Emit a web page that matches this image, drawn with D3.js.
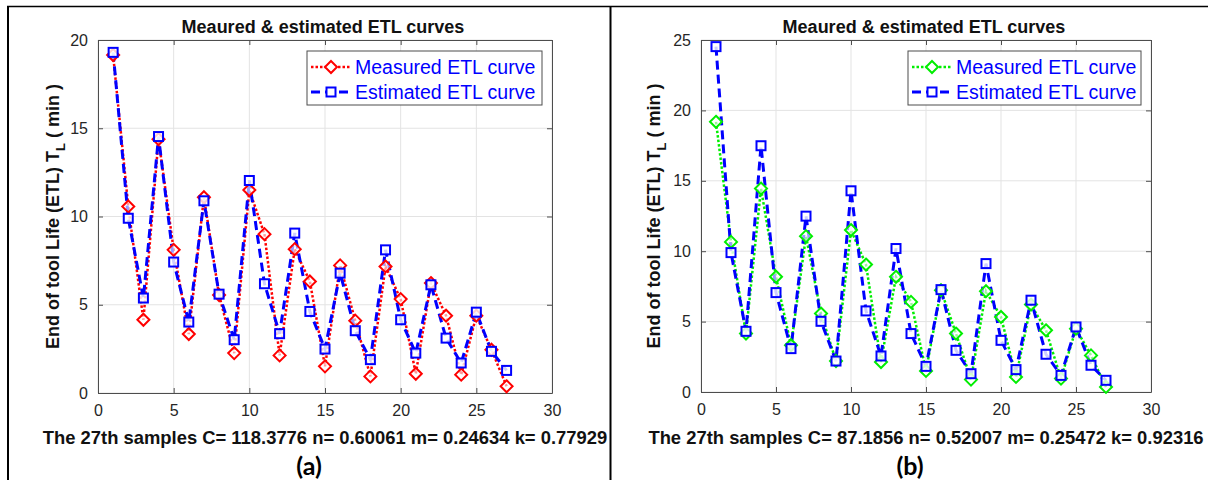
<!DOCTYPE html>
<html>
<head>
<meta charset="utf-8">
<script src="https://cdn.jsdelivr.net/npm/d3@7"></script>
<style>
  body { margin: 0; background: #fff; }
  svg text { font-family: "Liberation Sans", Arial, sans-serif; }
</style>
</head>
<body>
<div id="chart"></div>
<script>
// sample index 1..27
const samples = d3.range(1, 28);

// measured / estimated ETL, panel (a)
const measuredA = [19.15, 10.57, 4.15, 14.38, 8.11, 3.34, 11.09, 5.55, 2.26, 11.5, 9.0, 2.13, 8.15, 6.32, 1.51, 7.23, 4.1, 0.94, 7.17, 5.32, 1.09, 6.23, 4.38, 1.04, 4.38, 2.45, 0.38];
const estimatedA = [19.3, 9.9, 5.38, 14.53, 7.42, 4.02, 10.89, 5.6, 3.02, 12.04, 6.19, 3.36, 9.06, 4.62, 2.49, 6.79, 3.53, 1.89, 8.11, 4.15, 2.26, 6.13, 3.11, 1.7, 4.58, 2.36, 1.28];

// panel (b)
const measuredB = [19.19, 10.66, 4.15, 14.45, 8.18, 3.32, 11.07, 5.57, 2.2, 11.5, 9.05, 2.13, 8.18, 6.4, 1.5, 7.23, 4.15, 0.88, 7.16, 5.33, 1.07, 6.21, 4.38, 0.95, 4.5, 2.6, 0.36];
const estimatedB = [24.53, 9.9, 4.31, 17.49, 7.06, 3.08, 12.49, 5.02, 2.2, 14.29, 5.76, 2.56, 10.19, 4.15, 1.82, 7.27, 2.96, 1.3, 9.12, 3.67, 1.59, 6.52, 2.68, 1.18, 4.62, 1.9, 0.83];

const xTicks = [0, 5, 10, 15, 20, 25, 30];
const yTicksA = [0, 5, 10, 15, 20];
const yTicksB = [0, 5, 10, 15, 20, 25];

const titleText = "Meaured & estimated ETL curves";
const legendNames = ["Measured ETL curve", "Estimated ETL curve"];

const W = 1210, H = 480;
const svg = d3.select("#chart").append("svg")
    .attr("width", W)
    .attr("height", H);

// outer frame like the table cell borders
svg.append("line").attr("x1", 7).attr("y1", 6.5).attr("x2", 1208).attr("y2", 6.5)
    .attr("stroke", "black").attr("stroke-width", 1.5);
svg.append("line").attr("x1", 8).attr("y1", 6).attr("x2", 8).attr("y2", H)
    .attr("stroke", "black").attr("stroke-width", 2);
svg.append("line").attr("x1", 610.5).attr("y1", 6).attr("x2", 610.5).attr("y2", H)
    .attr("stroke", "black").attr("stroke-width", 2);

function drawPanel(cfg) {
    const g = svg.append("g");
    const x = d3.scaleLinear().domain([0, 30]).range([cfg.left, cfg.right]);
    const y = d3.scaleLinear().domain([0, cfg.yMax]).range([cfg.bottom, cfg.top]);

    // grid
    g.append("g").selectAll("line").data(xTicks).join("line")
        .attr("x1", d => x(d)).attr("x2", d => x(d))
        .attr("y1", cfg.top).attr("y2", cfg.bottom)
        .attr("stroke", "#e3e3e3").attr("stroke-width", 1);
    g.append("g").selectAll("line").data(cfg.yTicks).join("line")
        .attr("x1", cfg.left).attr("x2", cfg.right)
        .attr("y1", d => y(d)).attr("y2", d => y(d))
        .attr("stroke", "#e3e3e3").attr("stroke-width", 1);

    // axes
    const xAxis = g.append("g").attr("transform", `translate(0,${cfg.bottom})`)
        .call(d3.axisBottom(x).tickValues(xTicks).tickSizeInner(-5).tickSizeOuter(0).tickPadding(12));
    const xAxisTop = g.append("g").attr("transform", `translate(0,${cfg.top})`)
        .call(d3.axisTop(x).tickValues(xTicks).tickSizeInner(-5).tickSizeOuter(0).tickFormat(""));
    const yAxis = g.append("g").attr("transform", `translate(${cfg.left},0)`)
        .call(d3.axisLeft(y).tickValues(cfg.yTicks).tickSizeInner(-5).tickSizeOuter(0).tickPadding(10));
    const yAxisR = g.append("g").attr("transform", `translate(${cfg.right},0)`)
        .call(d3.axisRight(y).tickValues(cfg.yTicks).tickSizeInner(-5).tickSizeOuter(0).tickFormat(""));
    [xAxis, xAxisTop, yAxis, yAxisR].forEach(a => {
        a.select(".domain").attr("stroke", "#4d4d4d").attr("stroke-width", 1);
        a.selectAll(".tick line").attr("stroke", "#4d4d4d");
        a.selectAll("text").attr("fill", "#262626")
            .style("font-family", "'Liberation Sans', Arial, sans-serif")
            .style("font-size", "16px");
    });

    // lines
    const line = d3.line().x((d, i) => x(samples[i])).y(d => y(d));
    g.append("path").datum(cfg.measured)
        .attr("d", line).attr("fill", "none")
        .attr("stroke", cfg.mColor).attr("stroke-width", 2.5)
        .attr("stroke-dasharray", "2.5,2");
    g.append("path").datum(cfg.estimated)
        .attr("d", line).attr("fill", "none")
        .attr("stroke", "#0000ff").attr("stroke-width", 3)
        .attr("stroke-dasharray", "9,5");

    const diamond = (cx, cy, r) => `M${cx},${cy - r}L${cx + r},${cy}L${cx},${cy + r}L${cx - r},${cy}Z`;

    // markers
    g.append("g").selectAll("path").data(cfg.measured).join("path")
        .attr("d", (d, i) => diamond(x(samples[i]), y(d), 6))
        .attr("fill", "white").attr("fill-opacity", 0.6)
        .attr("stroke", cfg.mColor).attr("stroke-width", 2);
    g.append("g").selectAll("rect").data(cfg.estimated).join("rect")
        .attr("x", (d, i) => x(samples[i]) - 4.5)
        .attr("y", d => y(d) - 4.5)
        .attr("width", 9).attr("height", 9)
        .attr("fill", "white").attr("fill-opacity", 0.8)
        .attr("stroke", "#0000ff").attr("stroke-width", 2);

    // title
    g.append("text").attr("x", cfg.titleX).attr("y", 33)
        .attr("text-anchor", "middle").attr("font-weight", "bold")
        .attr("font-size", "18px").attr("fill", "#111").text(titleText);

    // y label
    const yl = g.append("text")
        .attr("transform", `translate(${cfg.ylabX},${(cfg.top + cfg.bottom) / 2}) rotate(-90)`)
        .attr("text-anchor", "middle").attr("font-weight", "bold")
        .attr("font-size", "18px").attr("fill", "#111");
    yl.append("tspan").text("End of tool Life (ETL) T");
    yl.append("tspan").attr("font-size", "13px").attr("dy", 6).text("L");
    yl.append("tspan").attr("dy", -6).text(" ( min )");

    // bottom caption
    g.append("text").attr("x", cfg.capX).attr("y", 444)
        .attr("text-anchor", "middle").attr("font-weight", "bold")
        .attr("font-size", "18.4px").attr("fill", "#111").text(cfg.caption);
    g.append("text").attr("x", cfg.subX).attr("y", 475)
        .attr("text-anchor", "middle").attr("font-weight", "bold")
        .style("font-family", "Lato, 'Open Sans', sans-serif")
        .attr("font-size", "25px").attr("fill", "#000").text(cfg.sub);

    // legend
    const lg = g.append("g");
    lg.append("rect").attr("x", cfg.legX).attr("y", 51).attr("width", cfg.legW).attr("height", 54)
        .attr("fill", "white").attr("stroke", "#4d4d4d").attr("stroke-width", 1);
    const rows = [67, 92];
    const lx0 = cfg.legX + 4, lx1 = cfg.legX + 44, mx = cfg.legX + 24;
    lg.append("line").attr("x1", lx0).attr("x2", lx1).attr("y1", rows[0]).attr("y2", rows[0])
        .attr("stroke", cfg.mColor).attr("stroke-width", 2.5).attr("stroke-dasharray", "2.5,2");
    lg.append("path").attr("d", diamond(mx, rows[0], 6))
        .attr("fill", "white").attr("stroke", cfg.mColor).attr("stroke-width", 2);
    lg.append("line").attr("x1", lx0).attr("x2", lx1).attr("y1", rows[1]).attr("y2", rows[1])
        .attr("stroke", "#0000ff").attr("stroke-width", 3).attr("stroke-dasharray", "9,5");
    lg.append("rect").attr("x", mx - 4.5).attr("y", rows[1] - 4.5).attr("width", 9).attr("height", 9)
        .attr("fill", "white").attr("stroke", "#0000ff").attr("stroke-width", 2);
    lg.selectAll("text.leg").data(legendNames).join("text")
        .attr("class", "leg")
        .attr("x", cfg.legX + 48).attr("y", (d, i) => rows[i] + 7)
        .attr("font-size", "19.5px").attr("fill", "#0000ff").text(d => d);
}

drawPanel({
    left: 98, right: 552, top: 40, bottom: 393, yMax: 20, yTicks: yTicksA,
    measured: measuredA, estimated: estimatedA, mColor: "#ff0000",
    titleX: 323, ylabX: 59, capX: 325, subX: 309, legX: 307, legW: 235,
    caption: "The 27th samples C= 118.3776 n= 0.60061 m= 0.24634 k= 0.77929",
    sub: "(a)"
});
drawPanel({
    left: 701, right: 1151, top: 40, bottom: 392, yMax: 25, yTicks: yTicksB,
    measured: measuredB, estimated: estimatedB, mColor: "#00ee00",
    titleX: 924, ylabX: 660, capX: 926, subX: 910, legX: 908, legW: 233,
    caption: "The 27th samples C= 87.1856 n= 0.52007 m= 0.25472 k= 0.92316",
    sub: "(b)"
});
</script>
</body>
</html>
